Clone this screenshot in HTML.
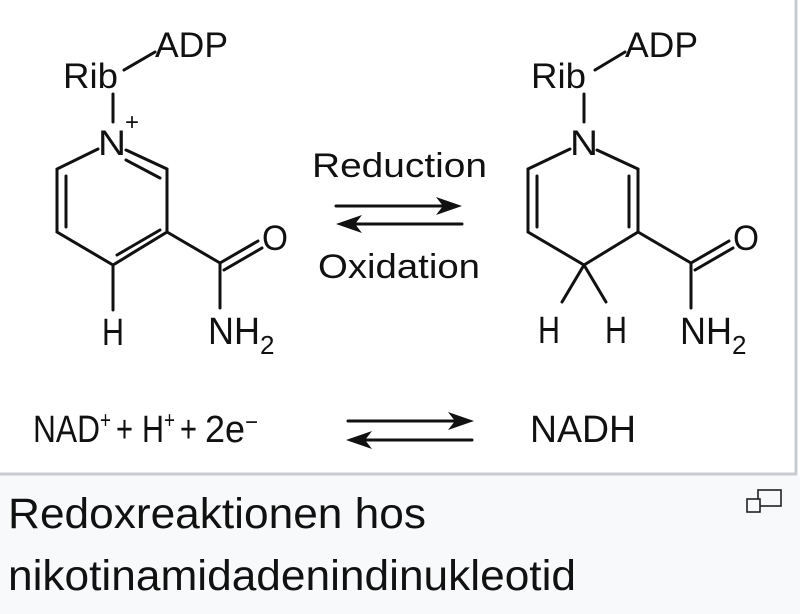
<!DOCTYPE html>
<html><head><meta charset="utf-8"><style>
html,body{margin:0;padding:0;background:#fff;width:800px;height:614px;overflow:hidden}
svg{display:block}
text{font-family:"Liberation Sans",sans-serif;fill:#111}
</style></head><body>
<svg width="800" height="614" viewBox="0 0 800 614" xmlns="http://www.w3.org/2000/svg">
<rect x="0" y="0" width="800" height="614" fill="#fff"/>
<rect x="0" y="475" width="800" height="139" fill="#f8f9fa"/>
<line x1="0" y1="474" x2="797" y2="474" stroke="#c8ccd1" stroke-width="3"/>
<line x1="796" y1="0" x2="796" y2="475" stroke="#c8ccd1" stroke-width="3"/>

<g stroke="#111" stroke-width="3" fill="none" stroke-linecap="round">
<line x1="124" y1="70" x2="155" y2="52"/>
<line x1="113" y1="94" x2="113" y2="122"/>
<polyline points="98,149 57,169 57,232 113,265 167,232 167,169 126,150"/>
<line x1="66" y1="176" x2="66" y2="227"/>
<line x1="126" y1="160" x2="160" y2="178"/>
<line x1="117" y1="255" x2="160" y2="230"/>
<line x1="167" y1="232" x2="220" y2="263"/>
<line x1="220" y1="263" x2="258" y2="241"/>
<line x1="224" y1="270" x2="262" y2="248"/>
<line x1="220" y1="263" x2="220" y2="308"/>
<line x1="113" y1="265" x2="113" y2="310"/>
<line x1="595" y1="70" x2="625" y2="52"/>
<line x1="584" y1="94" x2="584" y2="122"/>
<polyline points="570,149 528,169 528,232 584,265 638,232 638,169 597,150"/>
<line x1="537" y1="176" x2="537" y2="227"/>
<line x1="629" y1="176" x2="629" y2="227"/>
<line x1="638" y1="232" x2="691" y2="263"/>
<line x1="691" y1="263" x2="729" y2="241"/>
<line x1="695" y1="270" x2="733" y2="248"/>
<line x1="691" y1="263" x2="691" y2="308"/>
<line x1="584" y1="265" x2="562" y2="302"/>
<line x1="584" y1="265" x2="606" y2="302"/>
<line x1="336" y1="206" x2="445" y2="206"/>
<line x1="353" y1="224" x2="462" y2="224"/>
<line x1="348" y1="421" x2="455" y2="421"/>
<line x1="365" y1="440" x2="472" y2="440"/>
</g>
<g fill="#111">
<path d="M462,206 L436,197 L443,206 L436,215 Z"/>
<path d="M336,224 L362,215 L355,224 L362,233 Z"/>
<path d="M474,421 L448,412 L455,421 L448,430 Z"/>
<path d="M346,440 L372,431 L365,440 L372,449 Z"/>
</g>

<g font-size="35">
<text x="63" y="88" textLength="55" lengthAdjust="spacingAndGlyphs">Rib</text>
<text x="155" y="57" textLength="73" lengthAdjust="spacingAndGlyphs">ADP</text>
<text x="98" y="155" textLength="28" lengthAdjust="spacingAndGlyphs">N</text>
<text x="125" y="130" font-size="24">+</text>
<text x="262" y="250" textLength="26" lengthAdjust="spacingAndGlyphs">O</text>
<text x="102" y="345" font-size="38" textLength="22" lengthAdjust="spacingAndGlyphs">H</text>
<text x="208" y="344" font-size="38" textLength="52" lengthAdjust="spacingAndGlyphs">NH</text>
<text x="260" y="354" font-size="26">2</text>

<text x="531" y="88" textLength="55" lengthAdjust="spacingAndGlyphs">Rib</text>
<text x="625" y="57" textLength="73" lengthAdjust="spacingAndGlyphs">ADP</text>
<text x="570" y="155" textLength="28" lengthAdjust="spacingAndGlyphs">N</text>
<text x="733" y="250" textLength="26" lengthAdjust="spacingAndGlyphs">O</text>
<text x="538" y="343" font-size="38" textLength="22" lengthAdjust="spacingAndGlyphs">H</text>
<text x="605" y="343" font-size="38" textLength="22" lengthAdjust="spacingAndGlyphs">H</text>
<text x="680" y="344" font-size="38" textLength="52" lengthAdjust="spacingAndGlyphs">NH</text>
<text x="732" y="354" font-size="26">2</text>

<text x="312" y="177" font-size="34" textLength="175" lengthAdjust="spacingAndGlyphs">Reduction</text>
<text x="318" y="278" font-size="34" textLength="162" lengthAdjust="spacingAndGlyphs">Oxidation</text>
</g>

<g font-size="38">
<text x="33" y="442" textLength="67" lengthAdjust="spacingAndGlyphs">NAD</text>
<text x="100" y="428" font-size="24" textLength="11" lengthAdjust="spacingAndGlyphs">+</text>
<text x="116" y="442" textLength="17" lengthAdjust="spacingAndGlyphs">+</text>
<text x="142" y="442" textLength="22" lengthAdjust="spacingAndGlyphs">H</text>
<text x="164" y="428" font-size="24" textLength="11" lengthAdjust="spacingAndGlyphs">+</text>
<text x="180" y="442" textLength="17" lengthAdjust="spacingAndGlyphs">+</text>
<text x="205" y="442" textLength="40" lengthAdjust="spacingAndGlyphs">2e</text>
<text x="245" y="430" font-size="24" textLength="13" lengthAdjust="spacingAndGlyphs">−</text>
<text x="530" y="442" textLength="106" lengthAdjust="spacingAndGlyphs">NADH</text>
</g>

<g font-size="43">
<text x="8" y="528" textLength="418" lengthAdjust="spacingAndGlyphs">Redoxreaktionen hos</text>
<text x="8" y="590" textLength="568" lengthAdjust="spacingAndGlyphs">nikotinamidadenindinukleotid</text>
</g>
<g stroke="#222" stroke-width="1.6" fill="#f8f9fa">
<rect x="758" y="490" width="23" height="16"/>
<rect x="747" y="499" width="13" height="13"/>
</g>
</svg>
</body></html>
